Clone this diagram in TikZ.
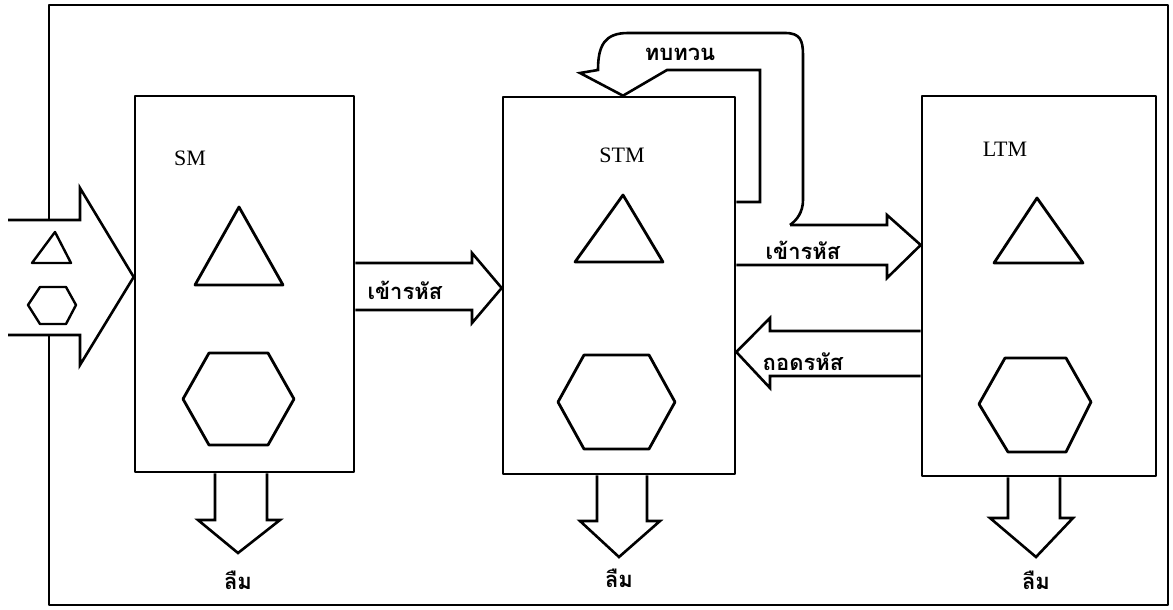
\documentclass[tikz,border=0pt]{standalone}
\usepackage{fontspec}
\setmainfont{Liberation Serif}
\newfontfamily\thaifont[Script=Thai]{Loma}
\begin{document}
\begin{tikzpicture}[x=1pt,y=-1pt,line width=2.4pt,line join=round,
  box/.style={draw,rectangle,inner sep=0pt,line width=2.6pt},
  blockarrow/.style={draw,line width=2.6pt,line join=miter},
  fig/.style={draw,line width=2.8pt},
  lbl/.style={font=\fontsize{22}{22}\selectfont,inner sep=0pt},
  thai/.style={font=\thaifont\bfseries\fontsize{22}{22}\selectfont,inner sep=0pt}]
\useasboundingbox (0,0) rectangle (1173,610);
% outer frame
\coordinate (fa) at (49,220);
\coordinate (fb) at (49,335);
\draw[line width=2.4pt] (fa) -- (49,5) -- (1168,5) -- (1168,605) -- (49,605) -- (fb);
% boxes
\node[box,minimum width=219pt,minimum height=376pt] (sm) at (244.5,284) {};
\node[box,minimum width=232pt,minimum height=377pt] (stm) at (619,285.5) {};
\node[box,minimum width=234pt,minimum height=380pt] (ltm) at (1039,286) {};
% labels
\node[lbl] (smt) at (190,158) {SM};
\node[lbl] (stmt) at (622,155) {STM};
\node[lbl] (ltmt) at (1005,149) {LTM};
% input arrow
\draw[blockarrow] (8,220) -- (80,220) -- (80,188) -- (sm.west |- 0,277) -- (80,365) -- (80,335) -- (8,335);
\draw[fig,line width=2.4pt] (55,232) -- (71,263) -- (32,263) -- cycle;
\draw[fig,line width=2.4pt] (28,305) -- (40,287) -- (66,287) -- (76,305) -- (66,324) -- (40,324) -- cycle;
% triangles
\draw[fig] (239,207) -- (283,285) -- (195,285) -- cycle;
\draw[fig] (623,195) -- (663,262) -- (575,262) -- cycle;
\draw[fig] (1037,198) -- (1083,263) -- (994,263) -- cycle;
% hexagons
\draw[fig] (183,399) -- (209,353) -- (268,353) -- (294,399) -- (268,445) -- (209,445) -- cycle;
\draw[fig] (558,402) -- (584,355) -- (649,355) -- (675,402) -- (649,449) -- (584,449) -- cycle;
\draw[fig] (979,404) -- (1005,358) -- (1066,358) -- (1091,402) -- (1066,452) -- (1008,452) -- cycle;
% SM -> STM
\draw[blockarrow] (sm.east |- 0,263) -- (472,263) -- (472,253) -- (stm.west |- 0,288) -- (472,323) -- (472,310) -- (sm.east |- 0,310);
\node[thai] (enc1) at (405,290) {เข้ารหัส};
% rehearsal loop
\draw[blockarrow] (stm.east |- 0,202) -- (760,202) -- (760,70) -- (667,70) -- (stm.north -| 623,0) -- (580,73) -- (598,70)
  .. controls (598,45) and (605,33) .. (628,33) -- (785,33)
  .. controls (800,33) and (803,40) .. (803,55) -- (803,200)
  .. controls (803,212) and (797,220) .. (790,225);
\node[thai] (reh) at (680,54) {ทบทวน};
% STM -> LTM
\draw[blockarrow] (790,225) -- (887,225) -- (887,215) -- (ltm.west |- 0,245) -- (887,278) -- (887,265) -- (stm.east |- 0,265);
\node[thai] (enc2) at (803,250) {เข้ารหัส};
% LTM -> STM
\draw[blockarrow] (ltm.west |- 0,331) -- (770,331) -- (770,318) -- (stm.east |- 0,352) -- (770,388) -- (770,376) -- (ltm.west |- 0,376);
\node[thai] (dec) at (803,362) {ถอดรหัส};
% forget arrows
\draw[blockarrow] (sm.south -| 215,0) -- (215,520) -- (198,520) -- (238,553) -- (280,520) -- (267,520) -- (sm.south -| 267,0);
\node[thai] (f1) at (238,580) {ลืม};
\draw[blockarrow] (stm.south -| 597,0) -- (597,521) -- (580,521) -- (619,557) -- (660,521) -- (647,521) -- (stm.south -| 647,0);
\node[thai] (f2) at (619,578) {ลืม};
\draw[blockarrow] (ltm.south -| 1008,0) -- (1008,518) -- (990,518) -- (1036,557) -- (1073,518) -- (1060,518) -- (ltm.south -| 1060,0);
\node[thai] (f3) at (1036,580) {ลืม};
\end{tikzpicture}
\end{document}
